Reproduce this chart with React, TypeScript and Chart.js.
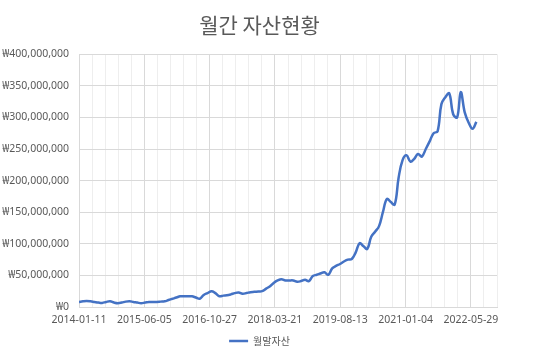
import React, { useEffect, useRef } from "react";
import { Chart, registerables } from "chart.js";

Chart.register(...registerables);

const TITLE = "월간 자산현황";
const SERIES_LABEL = "월말자산";
const START_DATE = "2014-01-11";
const MONTH_COUNT = 103;
// 월말자산, in millions of won, one per month from 2014-01
const assetsMillions = [
  8, 9, 9.5, 9, 8, 7, 6.5, 8, 9, 7, 6, 7,
  8.5, 9, 8, 7, 6, 7, 8, 8, 8, 8.5, 9, 11,
  13, 15, 17, 17, 17, 17, 15, 13, 19, 22, 25, 22,
  17, 18, 18.5, 20, 22, 23, 21, 22, 23.5, 24, 24.5, 25,
  29, 33, 38, 42, 44, 42, 42, 42, 40, 41, 43, 41,
  49, 51, 53, 55, 51, 61, 65, 68, 72, 75, 76, 86,
  101, 96, 92, 111, 119, 128, 150, 171, 166, 162, 205, 232,
  240, 230, 234, 242, 238, 250, 262, 275, 278, 321, 332, 338,
  305, 300, 340, 308, 292, 282, 293,
];
const Y_MIN = 0;
const Y_MAX = 400000000;
const Y_STEP = 50000000;
const X_MINOR_DAYS = 102;
const X_MAJOR_DAYS = 510;
const X_MAX_DAYS = 3264;

const DAY = 86400000;
const startMs = Date.parse(START_DATE + "T00:00:00Z");

function monthOffsetDays(i: number): number {
  const d = new Date(startMs);
  const m = new Date(Date.UTC(d.getUTCFullYear(), d.getUTCMonth() + i, d.getUTCDate()));
  return Math.round((m.getTime() - startMs) / DAY);
}

function dayLabel(v: number): string {
  return new Date(startMs + v * DAY).toISOString().slice(0, 10);
}

export default function App() {
  const ref = useRef<HTMLCanvasElement | null>(null);
  useEffect(() => {
    document.body.style.margin = "0";
    const points = assetsMillions.slice(0, MONTH_COUNT).map((v, i) => ({
      x: monthOffsetDays(i),
      y: v * 1000000,
    }));
    const font = "'Noto Sans', 'Noto Sans CJK KR', sans-serif";
    const chart = new Chart(ref.current!, {
      type: "line",
      data: {
        datasets: [
          {
            label: SERIES_LABEL,
            data: points,
            borderColor: "#4472C4",
            backgroundColor: "#4472C4",
            borderWidth: 2.5,
            pointRadius: 0,
            tension: 0.4,
            fill: false,
          },
        ],
      },
      options: {
        animation: false,
        responsive: false,
        maintainAspectRatio: false,
        layout: { padding: { left: 0, right: 14, top: 0, bottom: 0 } },
        plugins: {
          title: {
            display: true,
            text: TITLE,
            color: "#595959",
            font: { family: "'Noto Sans CJK KR', sans-serif", size: 21, weight: "normal" },
            padding: { top: 12, bottom: 17 },
          },
          legend: {
            display: true,
            position: "bottom",
            labels: {
              color: "#595959",
              font: { family: "'Noto Sans CJK KR', sans-serif", size: 10 },
              usePointStyle: true,
              pointStyle: "line",
              pointStyleWidth: 19,
              boxHeight: 3,
              padding: 7,
            },
          },
          tooltip: { enabled: false },
        },
        scales: {
          x: {
            type: "linear",
            min: 0,
            max: X_MAX_DAYS,
            afterBuildTicks: (scale: any) => {
              const t = [];
              for (let v = 0; v <= X_MAX_DAYS; v += X_MINOR_DAYS) t.push({ value: v });
              scale.ticks = t;
            },
            afterFit: (scale: any) => {
              scale.height = 22;
            },
            ticks: {
              autoSkip: false,
              maxRotation: 0,
              minRotation: 0,
              padding: 7,
              color: "#595959",
              font: { family: font, size: 10.5 },
              callback: (v: any) => (Number(v) % X_MAJOR_DAYS === 0 ? dayLabel(Number(v)) : ""),
            },
            grid: {
              drawTicks: false,
              color: (ctx: any) =>
                ctx.tick && ctx.tick.value % X_MAJOR_DAYS === 0 ? "#d9d9d9" : "#eeeeee",
              lineWidth: 1,
            },
            border: { display: true, color: "#d9d9d9" },
          },
          y: {
            min: Y_MIN,
            max: Y_MAX,
            afterFit: (scale: any) => {
              scale.width = 79;
            },
            ticks: {
              stepSize: Y_STEP,
              padding: 10,
              color: "#595959",
              font: { family: font, size: 10.5 },
              callback: (v: any) => "₩" + Number(v).toLocaleString("en-US"),
            },
            grid: { drawTicks: false, color: "#d9d9d9" },
            border: { display: false },
          },
          spacer: {
            type: "linear",
            position: "right",
            display: true,
            min: 0,
            max: 1,
            afterFit: (scale: any) => {
              scale.width = 22;
            },
            ticks: { display: false },
            grid: { display: false, drawTicks: false },
            border: { display: false },
          },
        },
      },
    });
    return () => chart.destroy();
  }, []);
  return (
    <div style={{ width: 533, height: 356 }}>
      <canvas ref={ref} width={533} height={356} style={{ width: 533, height: 356 }} />
    </div>
  );
}
